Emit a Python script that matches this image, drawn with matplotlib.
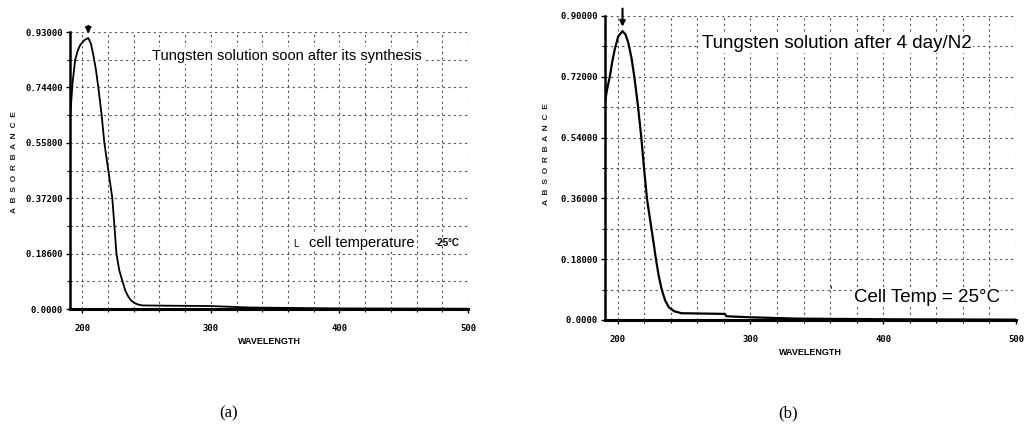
import matplotlib.pyplot as plt
import numpy as np
from matplotlib.ticker import MultipleLocator

# (a) tungsten solution soon after its synthesis
wl_a = [190.6, 192.5, 194.5, 196.5, 198.4, 201.5, 204.7, 206.8, 208.6, 210.6, 212.5,
        215.0, 217.2, 220.3, 223.4, 225.0, 226.6, 228.8, 231.3, 233.5, 236.0, 238.2,
        240.6, 243.5, 246.9, 270.0, 300.0, 330.0, 400.0, 500.0]
abs_a = [0.645, 0.760, 0.836, 0.868, 0.886, 0.902, 0.910, 0.890, 0.853, 0.805, 0.744,
         0.655, 0.558, 0.465, 0.372, 0.280, 0.186, 0.130, 0.093, 0.062, 0.040, 0.028,
         0.020, 0.015, 0.012, 0.011, 0.010, 0.005, 0.002, 0.001]

# (b) tungsten solution after 4 day / N2
wl_b = [190.4, 192.2, 194.1, 196.0, 197.8, 200.5, 203.7, 206.0, 208.1, 210.5, 212.6,
        215.3, 217.8, 220.0, 222.2, 225.9, 228.9, 231.0, 233.3, 235.8, 238.5, 242.5,
        248.1, 280.7, 282.0, 300.0, 335.0, 409.0, 500.0]
abs_b = [0.643, 0.685, 0.720, 0.765, 0.800, 0.840, 0.855, 0.845, 0.820, 0.775, 0.720,
         0.635, 0.543, 0.445, 0.357, 0.260, 0.180, 0.130, 0.089, 0.058, 0.038, 0.026,
         0.020, 0.018, 0.011, 0.008, 0.004, 0.002, 0.001]

yticks_a = [0.0, 0.186, 0.372, 0.558, 0.744, 0.93]
ylabels_a = ['0.0000', '0.18600', '0.37200', '0.55800', '0.74400', '0.93000']
yticks_b = [0.0, 0.18, 0.36, 0.54, 0.72, 0.90]
ylabels_b = ['0.0000', '0.18000', '0.36000', '0.54000', '0.72000', '0.90000']
xticks = [200, 300, 400, 500]

plt.rcParams['font.family'] = ['Liberation Sans', 'DejaVu Sans']

fig = plt.figure(figsize=(10.28, 4.32), dpi=100)
ax_a = fig.add_axes([0.0681, 0.2847, 0.3872, 0.6412])
ax_b = fig.add_axes([0.5885, 0.2593, 0.3998, 0.7037])


def style_axes(ax, yticks, ylabels, ystep, label_x, label_y):
    ax.set_xlim(190.5, 500)
    ax.set_ylim(0, yticks[-1])
    ax.set_xticks(xticks)
    ax.set_xticklabels([str(t) for t in xticks], fontsize=6.5, fontweight='bold',
                       family='DejaVu Sans Mono')
    ax.xaxis.set_minor_locator(MultipleLocator(20))
    ax.set_yticks(yticks)
    ax.set_yticklabels(ylabels, fontsize=6.5, fontweight='bold', family='DejaVu Sans Mono')
    ax.yaxis.set_minor_locator(MultipleLocator(ystep / 2))
    ax.grid(True, which='both', color='#555555', linestyle=(0, (2, 3)), linewidth=0.8)
    for s in ['top', 'right']:
        ax.spines[s].set_visible(False)
    ax.spines['left'].set_linewidth(1.8)
    ax.spines['bottom'].set_linewidth(2.2)
    ax.tick_params(axis='both', which='major', length=3, width=1, pad=2)
    ax.tick_params(axis='both', which='minor', length=2, width=0.8)
    ax.tick_params(axis='x', which='major', pad=8)
    fig.text(label_x, label_y, 'A  B  S  O  R  B  A  N  C  E', rotation=90, fontsize=6,
             fontweight='bold', ha='center', va='center', color='#222222')


style_axes(ax_a, yticks_a, ylabels_a, 0.186, 15 / 1028, 1 - 162 / 432)
style_axes(ax_b, yticks_b, ylabels_b, 0.18, 547 / 1028, 1 - 154 / 432)

ax_a.plot(wl_a, abs_a, color='black', linewidth=1.3)
ax_b.plot(wl_b, abs_b, color='black', linewidth=1.6)

# peak markers
for ax, wl, ab in [(ax_a, wl_a, abs_a), (ax_b, wl_b, abs_b)]:
    i = int(np.argmax(ab))
    top = ax.get_ylim()[1]
    ax.annotate('', xy=(wl[i], ab[i] + 0.005), xytext=(wl[i], top + 0.03),
                arrowprops=dict(arrowstyle='-|>', color='black', lw=1.5,
                                mutation_scale=8),
                annotation_clip=False)

ax_a.set_xlabel('WAVELENGTH', fontsize=6.5, fontweight='bold', labelpad=3)
ax_b.set_xlabel('WAVELENGTH', fontsize=6.5, fontweight='bold', labelpad=3)

ax_a.text(0.207, 0.915, 'Tungsten solution soon after its synthesis',
          transform=ax_a.transAxes, fontsize=10.5, va='center', ha='left',
          bbox=dict(facecolor='white', edgecolor='none', pad=1))
ax_a.text(0.56, 0.235, 'L', transform=ax_a.transAxes, fontsize=7, va='center', ha='left')
ax_a.text(0.6, 0.24, 'cell temperature', transform=ax_a.transAxes, fontsize=10.5,
          va='center', ha='left', bbox=dict(facecolor='white', edgecolor='none', pad=1))
ax_a.text(0.915, 0.24, '-25°C', transform=ax_a.transAxes, fontsize=7, fontweight='bold',
          va='center', ha='left')

ax_b.text(0.235, 0.91, 'Tungsten solution after 4 day/N2', transform=ax_b.transAxes,
          fontsize=13.5, va='center', ha='left',
          bbox=dict(facecolor='white', edgecolor='none', pad=1))
ax_b.text(0.545, 0.095, '\'', transform=ax_b.transAxes, fontsize=9, va='center', ha='left')
ax_b.text(0.605, 0.075, 'Cell Temp = 25°C', transform=ax_b.transAxes, fontsize=13.5,
          va='center', ha='left', bbox=dict(facecolor='white', edgecolor='none', pad=1))

fig.text(229 / 1028, 1 - 413 / 432, '(a)', fontsize=12, family='Liberation Serif',
         ha='center', va='center')
fig.text(788 / 1028, 1 - 413 / 432, '(b)', fontsize=12, family='Liberation Serif',
         ha='center', va='center')

fig.savefig('out.png', dpi=100)
